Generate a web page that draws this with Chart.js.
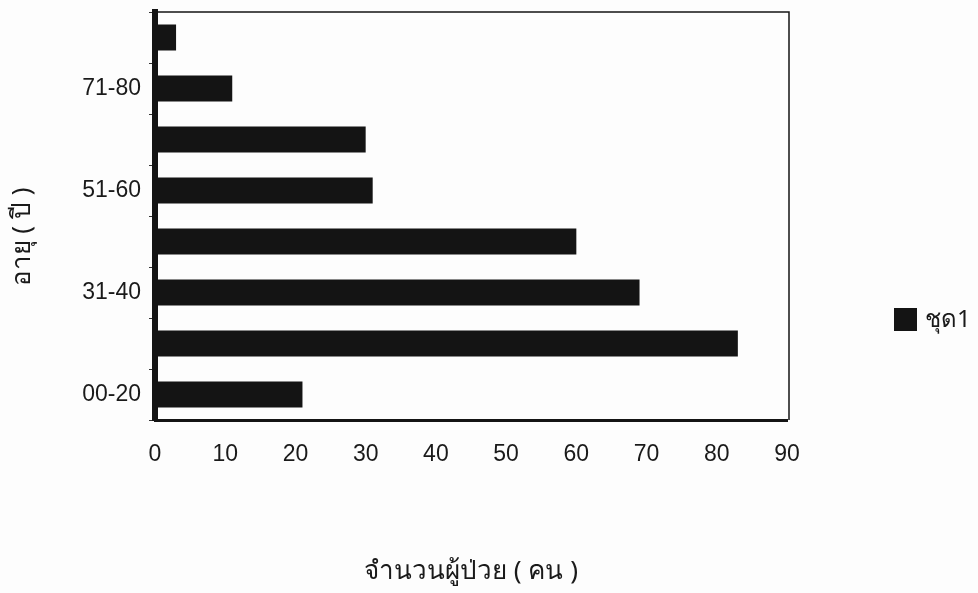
<!DOCTYPE html>
<html>
<head>
<meta charset="utf-8">
<script src="https://cdn.jsdelivr.net/npm/chart.js@4"></script>
<style>
  html, body { margin: 0; padding: 0; background: #fdfdfd; }
  #wrap { width: 978px; height: 593px; position: relative; }
</style>
</head>
<body>
<div id="wrap"><canvas id="c" width="978" height="593"></canvas></div>
<script>
// Age groups, listed from youngest (bottom) to oldest (top)
const ageGroups = ['00-20', '21-30', '31-40', '41-50', '51-60', '61-70', '71-80', '81-90'];
// Age groups whose label is printed on the axis
const shownAgeLabels = ['00-20', '31-40', '51-60', '71-80'];
// Number of patients in each age group
const patients = [21, 83, 69, 60, 31, 30, 11, 3];
const seriesName = 'ชุด1';
const xTitle = 'จำนวนผู้ป่วย ( คน )';
const yTitle = 'อายุ ( ปี )';

const INK = '#141414';
const latin = '"Liberation Sans", Arial, sans-serif';
const thai = '"Noto Sans", "DejaVu Sans", sans-serif';

// Frame, axis titles and legend drawn around the plot area
const decorations = {
  id: 'decorations',
  afterDraw(chart) {
    const { ctx, chartArea: a } = chart;
    ctx.save();
    // thin frame on top and right side
    ctx.strokeStyle = INK;
    ctx.lineWidth = 1.5;
    ctx.beginPath();
    ctx.moveTo(a.left, a.top);
    ctx.lineTo(a.right + 2, a.top);
    ctx.lineTo(a.right + 2, a.bottom);
    ctx.stroke();

    // x axis title
    ctx.fillStyle = '#1a1a1a';
    ctx.font = '26px ' + thai;
    ctx.textAlign = 'center';
    ctx.textBaseline = 'middle';
    ctx.fillText(xTitle, 471, 572);

    // y axis title
    ctx.save();
    ctx.translate(23, 237);
    ctx.rotate(-Math.PI / 2);
    ctx.fillText(yTitle, 0, 0);
    ctx.restore();

    // legend
    const ds = chart.data.datasets[0];
    ctx.fillStyle = ds.backgroundColor;
    ctx.fillRect(894, 308, 23, 23);
    ctx.fillStyle = '#1a1a1a';
    ctx.textAlign = 'left';
    ctx.font = '24px ' + thai;
    ctx.fillText(ds.label, 925, 320);
    ctx.restore();
  }
};

new Chart(document.getElementById('c'), {
  type: 'bar',
  data: {
    labels: ageGroups,
    datasets: [{
      label: seriesName,
      data: patients,
      backgroundColor: INK,
      borderWidth: 0,
      categoryPercentage: 1,
      barPercentage: 0.51
    }]
  },
  options: {
    indexAxis: 'y',
    responsive: false,
    animation: false,
    layout: { padding: { top: 12, right: 191, bottom: 0, left: 0 } },
    plugins: {
      legend: { display: false },
      tooltip: { enabled: false }
    },
    scales: {
      x: {
        min: 0,
        max: 90,
        ticks: {
          stepSize: 10,
          padding: 21,
          color: '#1a1a1a',
          font: { family: latin, size: 23 }
        },
        grid: { display: false, drawTicks: false },
        border: { display: true, color: INK, width: 3 },
        afterFit(s) { s.height = 173; s.paddingLeft = 0; s.paddingRight = 0; }
      },
      y: {
        reverse: true,
        ticks: {
          autoSkip: false,
          padding: 8,
          color: '#1a1a1a',
          font: { family: latin, size: 23 },
          callback(v) {
            const lab = ageGroups[v];
            return shownAgeLabels.includes(lab) ? lab : '';
          }
        },
        grid: {
          display: true,
          drawOnChartArea: false,
          drawTicks: true,
          tickLength: 6,
          color: '#333'
        },
        border: { display: true, color: INK, width: 6 },
        afterFit(s) { s.width = 155; s.paddingTop = 0; s.paddingBottom = 0; }
      }
    }
  },
  plugins: [decorations]
});
</script>
</body>
</html>
